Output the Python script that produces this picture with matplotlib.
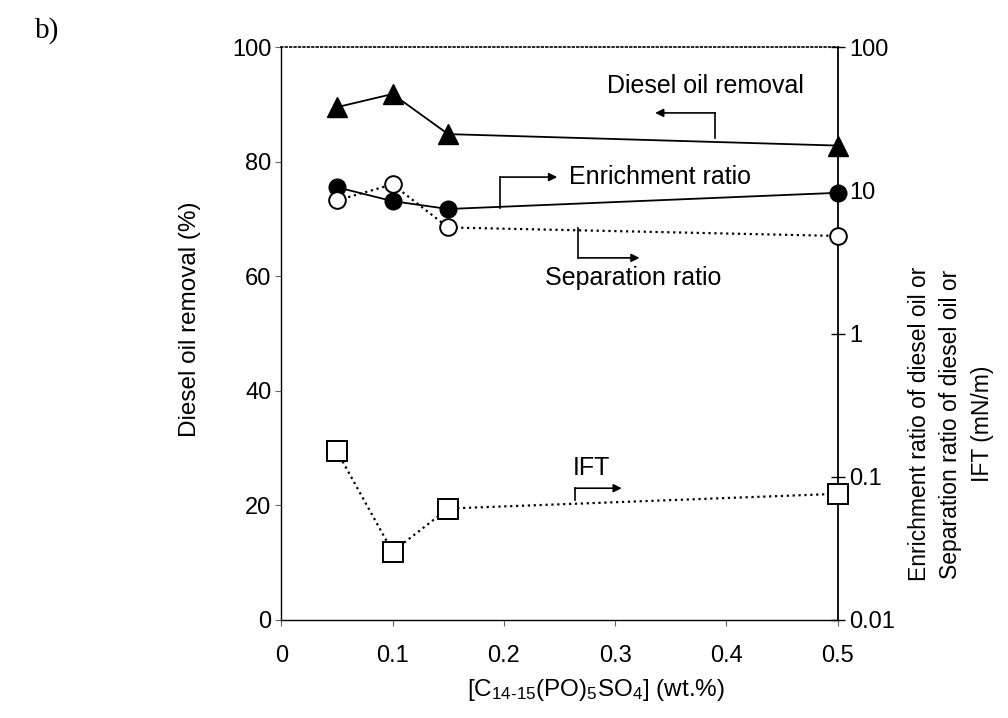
import numpy as np
import matplotlib.pyplot as plt

plt.rcParams['font.family'] = ['Liberation Sans', 'DejaVu Sans']
plt.rcParams['mathtext.fontset'] = 'custom'
plt.rcParams['mathtext.rm'] = 'Liberation Sans'
plt.rcParams['mathtext.it'] = 'Liberation Sans'

# data
conc = [0.05, 0.1, 0.15, 0.5]
removal = [89.5, 91.8, 84.8, 82.8]          # %, left axis
enrichment = [10.5, 8.4, 7.4, 9.6]          # right axis (log)
separation = [8.5, 11.0, 5.5, 4.8]          # right axis (log)
ift = [0.151, 0.030, 0.060, 0.076]          # mN/m, right axis (log)

left_ticks = [0, 20, 40, 60, 80, 100]
right_ticks = [0.01, 0.1, 1, 10, 100]
right_labels = ['0.01', '0.1', '1', '10', '100']
x_ticks = [0, 0.1, 0.2, 0.3, 0.4, 0.5]
x_labels = ['0', '0.1', '0.2', '0.3', '0.4', '0.5']

fig = plt.figure(figsize=(10.08, 7.18), dpi=100)
ax = fig.add_axes([0.279, 0.1365, 0.552, 0.798])
ax2 = ax.twinx()

ax.set_xlim(0, 0.5)
ax.set_ylim(0, 100)
ax2.set_yscale('log')
ax2.set_ylim(0.01, 100)

ax.plot(conc, removal, '-', color='black', lw=1.3, marker='^', ms=15,
        mfc='black', mec='black', zorder=5, clip_on=False)
ax2.plot(conc, enrichment, '-', color='black', lw=1.3, marker='o', ms=12,
         mfc='black', mec='black', zorder=5, clip_on=False)
ax2.plot(conc, separation, ':', color='black', lw=1.6, marker='o', ms=12,
         mfc='white', mec='black', mew=1.4, zorder=5, clip_on=False)
ax2.plot(conc, ift, ':', color='black', lw=1.6, marker='s', ms=15,
         mfc='white', mec='black', mew=1.4, zorder=5, clip_on=False)

# spines
ax.spines['top'].set_linestyle(':')
ax.spines['top'].set_linewidth(1.2)
ax.spines['left'].set_linewidth(1.0)
ax.spines['bottom'].set_linewidth(1.0)
ax.spines['right'].set_visible(False)
ax2.spines['top'].set_visible(False)
ax2.spines['left'].set_visible(False)
ax2.spines['bottom'].set_visible(False)
ax2.spines['right'].set_linewidth(1.3)

ax.set_yticks(left_ticks)
ax.set_yticklabels([str(t) for t in left_ticks])
ax.set_xticks(x_ticks)
ax.set_xticklabels(x_labels)
ax2.set_yticks(right_ticks)
ax2.set_yticklabels(right_labels)
ax2.yaxis.set_minor_locator(plt.NullLocator())

ax.tick_params(axis='y', direction='out', length=4, width=0.8,
               labelsize=17, pad=3, color='0.4')
ax.tick_params(axis='x', direction='out', length=4, width=0.8,
               labelsize=17, pad=14, color='0.4')
ax2.tick_params(axis='y', direction='inout', length=10, width=1.0,
                labelsize=17, pad=3)

# axis titles placed like the original (slightly off-centre)
fig.text(190 / 1008, 1 - 319 / 718, 'Diesel oil removal (%)', fontsize=17.5,
         rotation=90, ha='center', va='center')
fig.text(596 / 1008, 1 - 690 / 718,
         r'[C$_{14\text{-}15}$(PO)$_5$SO$_4$] (wt.%)', fontsize=17.5,
         ha='center', va='center')
fig.text(951 / 1008, 1 - 424 / 718,
         'Enrichment ratio of diesel oil or\n'
         'Separation ratio of diesel oil or\nIFT (mN/m)',
         fontsize=16.5, rotation=90, ha='center', va='center',
         multialignment='center', linespacing=1.45)

fig.text(0.035, 0.958, 'b)', fontsize=21, family='Liberation Serif',
         va='center', ha='left')

# bracket-arrow labels (positions in left-axis data units)
kw = dict(color='black', lw=1.2)
ah = dict(arrowstyle='-|>', color='black', lw=1.2, mutation_scale=12,
          shrinkA=0, shrinkB=0)

ax.plot([0.390, 0.390], [84.1, 88.5], **kw)
ax.annotate('', xy=(0.336, 88.5), xytext=(0.390, 88.5), arrowprops=ah)
ax.text(0.381, 93.2, 'Diesel oil removal', fontsize=18, ha='center', va='center')

ax.plot([0.197, 0.197], [71.9, 77.3], **kw)
ax.annotate('', xy=(0.248, 77.3), xytext=(0.197, 77.3), arrowprops=ah)
ax.text(0.259, 77.3, 'Enrichment ratio', fontsize=18, ha='left', va='center')

ax.plot([0.267, 0.267], [68.4, 63.2], **kw)
ax.annotate('', xy=(0.322, 63.2), xytext=(0.267, 63.2), arrowprops=ah)
ax.text(0.237, 59.7, 'Separation ratio', fontsize=18, ha='left', va='center')

ax.plot([0.264, 0.264], [20.9, 23.0], **kw)
ax.annotate('', xy=(0.306, 23.0), xytext=(0.264, 23.0), arrowprops=ah)
ax.text(0.279, 24.5, 'IFT', fontsize=18, ha='center', va='bottom')

fig.savefig('out.png', dpi=100)
